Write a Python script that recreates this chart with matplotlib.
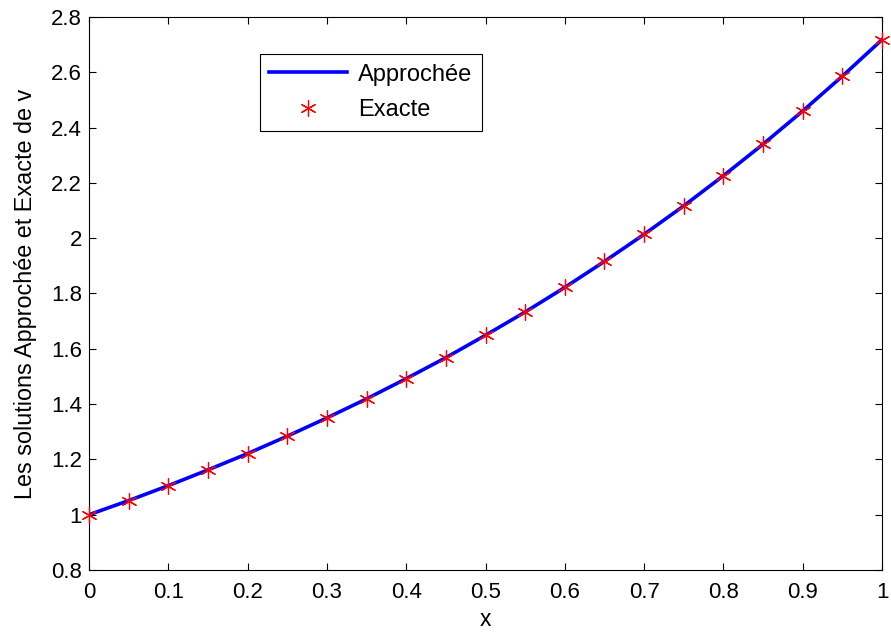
import matplotlib
matplotlib.use("Agg")
import matplotlib.pyplot as plt

plt.rcParams['font.family'] = ['Liberation Sans', 'DejaVu Sans']

x = [0.0, 0.05, 0.1, 0.15, 0.2, 0.25, 0.3, 0.35, 0.4, 0.45, 0.5,
     0.55, 0.6, 0.65, 0.7, 0.75, 0.8, 0.85, 0.9, 0.95, 1.0]
v_approx = [1.000, 1.051, 1.105, 1.162, 1.221, 1.284, 1.350, 1.419, 1.492, 1.568, 1.649,
            1.733, 1.822, 1.916, 2.014, 2.117, 2.226, 2.340, 2.460, 2.586, 2.718]
v_exact = [1.000, 1.051, 1.105, 1.162, 1.221, 1.284, 1.350, 1.419, 1.492, 1.568, 1.649,
           1.733, 1.822, 1.916, 2.014, 2.117, 2.226, 2.340, 2.460, 2.586, 2.718]
xticks = [0, 0.1, 0.2, 0.3, 0.4, 0.5, 0.6, 0.7, 0.8, 0.9, 1]
xtick_labels = ['0', '0.1', '0.2', '0.3', '0.4', '0.5', '0.6', '0.7', '0.8', '0.9', '1']
yticks = [0.8, 1, 1.2, 1.4, 1.6, 1.8, 2, 2.2, 2.4, 2.6, 2.8]
ytick_labels = ['0.8', '1', '1.2', '1.4', '1.6', '1.8', '2', '2.2', '2.4', '2.6', '2.8']

fig = plt.figure(figsize=(8.91, 6.37), dpi=100)
ax = fig.add_axes([0.0999, 0.1052, 0.8900, 0.8681])

ax.plot(x, v_approx, color='#0000ff', linewidth=2.6, label='Approchée', zorder=2)
ax.plot(x, v_exact, linestyle='none', marker=(6, 2, 0), markersize=11.5,
        markeredgecolor='#ff0000', markeredgewidth=0.9, label='Exacte', zorder=3, clip_on=False)

ax.set_xlim(0, 1)
ax.set_ylim(0.8, 2.8)
ax.set_xticks(xticks)
ax.set_xticklabels(xtick_labels)
ax.set_yticks(yticks)
ax.set_yticklabels(ytick_labels)
ax.tick_params(direction='in', top=True, right=True, length=5, width=0.8,
               labelsize=16)
ax.tick_params(axis='x', pad=9)
ax.tick_params(axis='y', pad=5)
for s in ax.spines.values():
    s.set_linewidth(0.8)

ax.set_xlabel('x', fontsize=16.5, labelpad=3)
ax.set_ylabel('Les solutions Approchée et Exacte de v', fontsize=16.8, labelpad=10)

leg = ax.legend(loc='upper left', bbox_to_anchor=(0.2156, 0.933), fontsize=17,
                frameon=True, fancybox=False, edgecolor='black', framealpha=1,
                handlelength=3.3, borderpad=0.4, labelspacing=0.58, handletextpad=0.45,
                borderaxespad=0)
leg.get_frame().set_linewidth(0.8)

fig.savefig('out.png', dpi=100)
